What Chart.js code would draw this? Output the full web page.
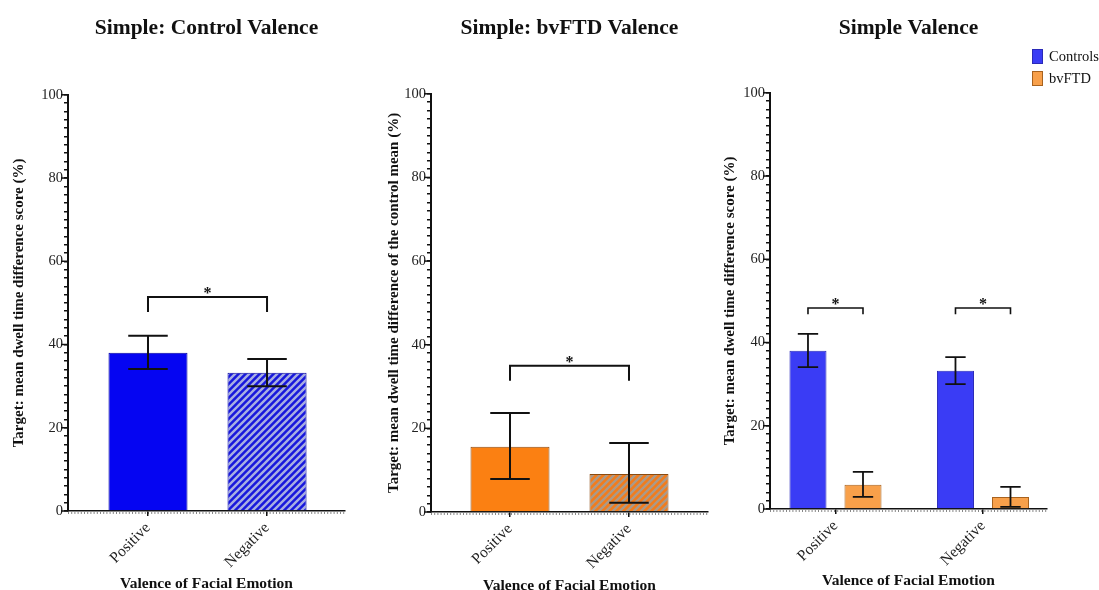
<!DOCTYPE html>
<html><head><meta charset="utf-8">
<script src="https://cdn.jsdelivr.net/npm/chart.js@4.4.1/dist/chart.umd.min.js"></script>
<style>
html,body{margin:0;padding:0;background:#fff;overflow:hidden;width:1099px;height:590px}
canvas{position:absolute;top:0}
#legend{position:absolute;left:1032px;top:45px;font-family:'Liberation Serif',serif;font-size:14.5px;color:#111}
.li{display:flex;align-items:center;height:22px;white-space:nowrap}
.sw{width:11px;height:15px;border:1px solid #444;margin-right:6px;box-sizing:border-box}
</style></head><body>
<canvas id="c1" width="360" height="590" style="left:0px"></canvas>
<canvas id="c2" width="350" height="590" style="left:375px"></canvas>
<canvas id="c3" width="388" height="590" style="left:711px"></canvas>
<div id="legend"></div>
<script>
// ---------- data ----------
const categories = ['Positive', 'Negative'];
const seriesNames = ['Controls', 'bvFTD'];
const controlMean = [38.0, 33.2];
const controlErrHigh = [42.1, 36.5];
const controlErrLow = [34.1, 30.0];
const bvftdRelMean = [15.6, 9.1];
const bvftdRelErrHigh = [23.7, 16.5];
const bvftdRelErrLow = [7.9, 2.2];
const bvftdMean = [5.8, 2.9];
const bvftdErrHigh = [8.9, 5.3];
const bvftdErrLow = [2.9, 0.5];
const yMajorTicks = [0, 20, 40, 60, 80, 100];
const panelTitles = ['Simple: Control Valence', 'Simple: bvFTD Valence', 'Simple Valence'];
const yTitles = ['Target: mean dwell time difference score (%)',
                 'Target: mean dwell time difference of the control mean (%)',
                 'Target: mean dwell time difference score (%)'];
const xTitle = 'Valence of Facial Emotion';
const sigMark = '*';

const F = "'Liberation Serif', 'Times New Roman', serif";
const INK = '#111';

function hatch(canvasId, base, stripe, size, lw) {
  const c = document.createElement('canvas');
  c.width = size; c.height = size;
  const g = c.getContext('2d');
  g.fillStyle = base; g.fillRect(0, 0, size, size);
  g.strokeStyle = stripe; g.lineWidth = lw;
  g.beginPath();
  g.moveTo(-2, size + 2); g.lineTo(size + 2, -2);
  g.moveTo(-2, 2); g.lineTo(2, -2);
  g.moveTo(size - 2, size + 2); g.lineTo(size + 2, size - 2);
  g.stroke();
  return document.getElementById(canvasId).getContext('2d').createPattern(c, 'repeat');
}

const errPlugin = {
  id: 'errbars',
  afterDatasetsDraw(chart, args, opts) {
    const ctx = chart.ctx, y = chart.scales.y;
    ctx.save();
    ctx.strokeStyle = INK;
    ctx.lineWidth = opts.lineWidth || 2;
    (opts.sets || []).forEach((s, di) => {
      const meta = chart.getDatasetMeta(di);
      meta.data.forEach((el, j) => {
        const x = el.x, hw = el.width * (opts.capRatio || 0.5) / 2;
        const yh = y.getPixelForValue(s.hi[j]), yl = y.getPixelForValue(s.lo[j]);
        ctx.beginPath();
        ctx.moveTo(x, yh); ctx.lineTo(x, yl);
        ctx.moveTo(x - hw, yh); ctx.lineTo(x + hw, yh);
        ctx.moveTo(x - hw, yl); ctx.lineTo(x + hw, yl);
        ctx.stroke();
      });
    });
    (opts.brackets || []).forEach(b => {
      const e1 = chart.getDatasetMeta(b.from[0]).data[b.from[1]];
      const e2 = chart.getDatasetMeta(b.to[0]).data[b.to[1]];
      const yl = y.getPixelForValue(b.level);
      const yd = y.getPixelForValue(b.level - b.drop);
      ctx.lineWidth = b.lineWidth || 2;
      ctx.beginPath();
      ctx.moveTo(e1.x, yd); ctx.lineTo(e1.x, yl); ctx.lineTo(e2.x, yl); ctx.lineTo(e2.x, yd);
      ctx.stroke();
      ctx.fillStyle = INK;
      ctx.font = 'bold 16px ' + F;
      ctx.textAlign = 'center';
      ctx.textBaseline = 'alphabetic';
      ctx.fillText(sigMark, (e1.x + e2.x) / 2, yl + 1);
    });
    ctx.restore();
  }
};

const axisDeco = {
  id: 'axisDeco',
  afterDraw(chart) {
    const {ctx, chartArea: a, scales: {y}} = chart;
    ctx.save();
    ctx.strokeStyle = INK;
    ctx.lineWidth = 1.5;
    yMajorTicks.forEach(v => {
      const py = y.getPixelForValue(v);
      ctx.beginPath(); ctx.moveTo(a.left - 7, py); ctx.lineTo(a.left, py); ctx.stroke();
    });
    ctx.lineWidth = 1.2;
    ctx.setLineDash([1, 2.2]);
    ctx.beginPath(); ctx.moveTo(a.left, a.bottom + 2); ctx.lineTo(a.right, a.bottom + 2); ctx.stroke();
    ctx.restore();
  }
};

function makeOptions(cfg) {
  return {
    responsive: false,
    animation: false,
    devicePixelRatio: 1,
    layout: {padding: {left: 0, right: cfg.padR, top: 0, bottom: 0}},
    datasets: {bar: {categoryPercentage: cfg.cp, barPercentage: cfg.bp}},
    plugins: {
      legend: {display: false},
      tooltip: {enabled: false},
      title: {
        display: true, text: cfg.title, fullSize: false, color: INK,
        font: {family: F, size: 21.5, weight: 'bold', lineHeight: 1.2},
        padding: {top: 16, bottom: cfg.titlePadB}
      },
      errbars: {sets: cfg.sets, brackets: cfg.brackets, capRatio: cfg.capRatio, lineWidth: cfg.errLW}
    },
    scales: {
      x: {
        type: 'linear', min: cfg.xmin, max: cfg.xmax, offset: false,
        afterBuildTicks: s => { s.ticks = categories.map((c, i) => ({value: i})); },
        afterFit: s => { s.height = cfg.xH; },
        ticks: {autoSkip: false, maxRotation: 45, minRotation: 45, padding: 3, color: '#222',
                font: {family: F, size: 15.5}, callback: v => categories[v]},
        grid: {display: true, drawOnChartArea: false, drawTicks: true, tickLength: 5, color: INK,
               lineWidth: 1.5, offset: false},
        border: {display: true, color: INK, width: 1.5},
        title: {display: true, text: xTitle, color: INK,
                font: {family: F, size: 15.5, weight: 'bold', lineHeight: 1},
                padding: {top: 0, bottom: cfg.xTitlePadB}}
      },
      y: {
        min: 0, max: 100,
        afterFit: s => { s.width = cfg.yW; },
        ticks: {stepSize: 2, maxTicksLimit: 100, autoSkip: false, padding: 1, color: '#222',
                font: {family: F, size: 14.5},
                callback: v => (yMajorTicks.includes(v) ? String(v) : '')},
        grid: {display: true, drawOnChartArea: false, drawTicks: true, tickLength: 4, color: INK, lineWidth: 1.5},
        border: {display: true, color: INK, width: 2},
        title: {display: true, text: cfg.yTitle, color: INK,
                font: {family: F, size: 15, weight: 'bold', lineHeight: 1.2},
                padding: {top: 10, bottom: 0}}
      }
    }
  };
}

const pts = arr => arr.map((v, i) => ({x: i, y: v}));

// Panel 1
new Chart(document.getElementById('c1'), {
  type: 'bar',
  data: {datasets: [{
    label: seriesNames[0],
    data: pts(controlMean),
    backgroundColor: ['#0505f2', hatch('c1', '#1818dc', '#a8aee2', 7, 2.4)],
    borderColor: '#0000a0', borderWidth: 1
  }]},
  options: makeOptions({
    padR: 15, cp: 1, bp: 0.664, title: panelTitles[0], titlePadB: 53,
    xmin: -0.672, xmax: 1.655, xH: 79, xTitlePadB: -2, yW: 68, yTitle: yTitles[0],
    sets: [{hi: controlErrHigh, lo: controlErrLow}],
    brackets: [{from: [0, 0], to: [0, 1], level: 51.4, drop: 3.6, lineWidth: 2}],
    capRatio: 0.5, errLW: 2
  }),
  plugins: [errPlugin, axisDeco]
});

// Panel 2
new Chart(document.getElementById('c2'), {
  type: 'bar',
  data: {datasets: [{
    label: seriesNames[1],
    data: pts(bvftdRelMean),
    backgroundColor: ['#fb8012', hatch('c2', '#f27c1c', '#aa9a8a', 7, 2.4)],
    borderColor: '#8a4a10', borderWidth: 1
  }]},
  options: makeOptions({
    padR: 17, cp: 1, bp: 0.664, title: panelTitles[1], titlePadB: 52,
    xmin: -0.664, xmax: 1.664, xH: 78, xTitlePadB: -4, yW: 56, yTitle: yTitles[1],
    sets: [{hi: bvftdRelErrHigh, lo: bvftdRelErrLow}],
    brackets: [{from: [0, 0], to: [0, 1], level: 35.0, drop: 3.6, lineWidth: 2}],
    capRatio: 0.5, errLW: 2
  }),
  plugins: [errPlugin, axisDeco]
});

// Panel 3
const chart3 = new Chart(document.getElementById('c3'), {
  type: 'bar',
  data: {datasets: [
    {label: seriesNames[0], data: pts(controlMean), backgroundColor: '#3a3cf5', borderColor: '#2a2ab8', borderWidth: 1},
    {label: seriesNames[1], data: pts(bvftdMean), backgroundColor: '#f8a04a', borderColor: '#a8621e', borderWidth: 1}
  ]},
  options: makeOptions({
    padR: 52, cp: 0.746, bp: 0.673, title: panelTitles[2], titlePadB: 51,
    xmin: -0.444, xmax: 1.434, xH: 81, xTitlePadB: 1, yW: 59, yTitle: yTitles[2],
    sets: [{hi: controlErrHigh, lo: controlErrLow}, {hi: bvftdErrHigh, lo: bvftdErrLow}],
    brackets: [{from: [0, 0], to: [1, 0], level: 48.3, drop: 1.5, lineWidth: 1.6},
               {from: [0, 1], to: [1, 1], level: 48.3, drop: 1.5, lineWidth: 1.6}],
    capRatio: 0.55, errLW: 1.8
  }),
  plugins: [errPlugin, axisDeco]
});

// Legend (HTML, generated from chart 3 datasets)
const lg = document.getElementById('legend');
chart3.data.datasets.forEach(ds => {
  const row = document.createElement('div'); row.className = 'li';
  const sw = document.createElement('span'); sw.className = 'sw';
  sw.style.background = ds.backgroundColor; sw.style.borderColor = ds.borderColor;
  const t = document.createElement('span'); t.textContent = ds.label;
  row.appendChild(sw); row.appendChild(t); lg.appendChild(row);
});
</script>
</body></html>
